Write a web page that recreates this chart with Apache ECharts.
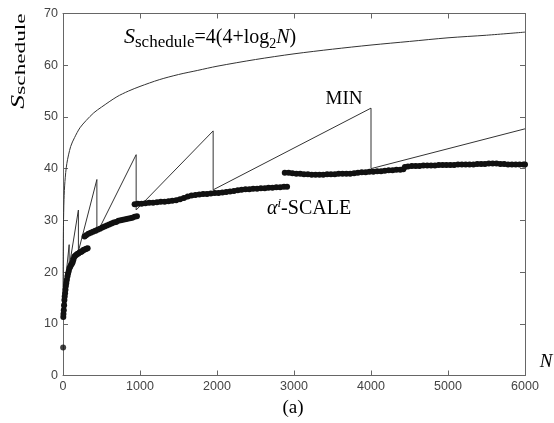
<!DOCTYPE html>
<html>
<head>
<meta charset="utf-8">
<script src="https://cdn.jsdelivr.net/npm/echarts@6/dist/echarts.min.js"></script>
<style>html,body{margin:0;padding:0;background:#fff}#c{width:554px;height:423px}</style>
</head>
<body>
<div id="c"></div>
<script>
// ---- data ----
const xTickValues = [0, 1000, 2000, 3000, 4000, 5000, 6000];
const yTickValues = [0, 10, 20, 30, 40, 50, 60, 70];

// S_schedule curve [N, value]
const scheduleCurve = [[1,16],[3,24],[6,29],[13,34],[25,37.5],[50,41],[100,44.3],[150,46],[220,47.9],[300,49.3],[400,50.8],[500,51.9],[700,53.9],[850,55],[1000,55.9],[1250,57.2],[1500,58.2],[1750,59.0],[2000,59.8],[2500,61.1],[3000,62.2],[3500,63.1],[4000,63.9],[4500,64.6],[5000,65.3],[5500,65.8],[6000,66.4]];

// MIN sawtooth [N, value]
const minCurve = [[30,18],[80,25.3],[80,21],[200,32],[200,24],[440,37.9],[440,27.5],[950,42.7],[950,32],[1950,47.3],[1950,35.9],[4000,51.7],[4000,40],[6000,47.7]];

// alpha^i-SCALE points
const alphaDot = [[2,5.4]];
const alphaA = [[4,11.3],[6,11.9],[10,12.6],[14,13.6],[18,14.6],[22,15.3],[27,15.9],[32,16.6],[37,17.3],[43,17.9],[50,18.5],[58,19.2],[66,19.7],[75,20.2],[85,20.8],[95,21.1],[105,21.4],[115,21.6],[125,21.9],[135,22.4],[145,22.9],[155,23.1],[170,23.3],[185,23.5],[200,23.6],[215,23.8],[230,23.9],[245,24.0],[260,24.2],[275,24.3],[290,24.4],[305,24.5],[320,24.6]];
const alphaB = [[280,26.9],[300,27.1],[330,27.4],[360,27.6],[390,27.8],[420,28.0],[450,28.2],[480,28.4],[510,28.6],[540,28.8],[570,29.0],[600,29.2],[630,29.4],[660,29.6],[690,29.7],[720,29.9],[750,30.0],[780,30.1],[810,30.2],[840,30.3],[870,30.4],[900,30.5],[930,30.7],[960,30.8]];
const alphaC = [[930,33.1],[970,33.2],[1020,33.2],[1070,33.3],[1120,33.4],[1170,33.4],[1220,33.5],[1270,33.6],[1320,33.6],[1370,33.7],[1420,33.8],[1470,33.9],[1520,34.1],[1570,34.3],[1620,34.6],[1670,34.8],[1720,34.9],[1770,35.0],[1820,35.1],[1870,35.1],[1920,35.2],[1970,35.3],[2020,35.3],[2070,35.4],[2120,35.5],[2170,35.6],[2220,35.7],[2270,35.8],[2320,35.9],[2370,36.0],[2420,36.0],[2470,36.1],[2520,36.1],[2570,36.2],[2620,36.2],[2670,36.3],[2720,36.3],[2770,36.4],[2820,36.4],[2870,36.5],[2910,36.5]];
const alphaD = [[2880,39.2],[2930,39.2],[2980,39.1],[3030,39.0],[3080,39.0],[3130,38.9],[3180,38.9],[3230,38.8],[3280,38.8],[3330,38.8],[3380,38.8],[3430,38.9],[3480,38.9],[3530,38.9],[3580,39.0],[3630,39.0],[3680,39.0],[3730,39.0],[3780,39.1],[3830,39.2],[3880,39.3],[3930,39.3],[3980,39.4],[4030,39.4],[4080,39.5],[4130,39.5],[4180,39.6],[4230,39.7],[4280,39.7],[4330,39.8],[4380,39.8],[4420,39.9],[4440,40.3],[4480,40.4],[4530,40.5],[4580,40.5],[4630,40.5],[4680,40.6],[4730,40.6],[4780,40.6],[4830,40.6],[4880,40.7],[4930,40.7],[4980,40.7],[5030,40.7],[5080,40.7],[5130,40.8],[5180,40.8],[5230,40.8],[5280,40.8],[5330,40.8],[5380,40.9],[5430,40.9],[5480,40.9],[5530,41.0],[5580,41.0],[5630,41.0],[5680,40.9],[5730,40.9],[5780,40.8],[5830,40.8],[5880,40.8],[5930,40.8],[5980,40.8],[6000,40.8]];

// ---- chart ----
const chart = echarts.init(document.getElementById('c'), null, {renderer: 'canvas'});
const axisColor = '#666';
const labelStyle = {color: '#444', fontSize: 12.5, fontFamily: 'Liberation Sans, Arial, sans-serif'};
const serif = 'Liberation Serif, Times New Roman, serif';

function xAx(pos, showLabel) {
  return {
    type: 'value', position: pos, min: xTickValues[0], max: xTickValues[xTickValues.length - 1],
    interval: xTickValues[1] - xTickValues[0],
    axisLine: {show: true, onZero: false, lineStyle: {color: axisColor, width: 1}},
    axisTick: {show: true, inside: true, length: 5, lineStyle: {color: axisColor, width: 1}},
    axisLabel: Object.assign({show: showLabel, margin: 5, formatter: v => String(v)}, labelStyle),
    splitLine: {show: false}
  };
}
function yAx(pos, showLabel) {
  return {
    type: 'value', position: pos, min: yTickValues[0], max: yTickValues[yTickValues.length - 1],
    interval: yTickValues[1] - yTickValues[0],
    axisLine: {show: true, onZero: false, lineStyle: {color: axisColor, width: 1}},
    axisTick: {show: true, inside: true, length: 5, lineStyle: {color: axisColor, width: 1}},
    axisLabel: Object.assign({show: showLabel, margin: 5, formatter: v => String(v)}, labelStyle),
    splitLine: {show: false}
  };
}
function alphaSeries(data) {
  return {
    type: 'line', data: data, xAxisIndex: 0, yAxisIndex: 0,
    symbol: 'circle', symbolSize: 6, showAllSymbol: true, clip: false,
    lineStyle: {color: '#111', width: 4.5}, itemStyle: {color: '#111'},
    animation: false, z: 3
  };
}

chart.setOption({
  animation: false,
  grid: {left: 63, right: 29, top: 13.5, bottom: 47.5, containLabel: false},
  xAxis: [xAx('bottom', true), xAx('top', false)],
  yAxis: [yAx('left', true), yAx('right', false)],
  series: [
    {type: 'line', data: scheduleCurve, symbol: 'none', smooth: 0.3,
     lineStyle: {color: '#333', width: 1}, z: 2},
    {type: 'line', data: minCurve, symbol: 'none',
     lineStyle: {color: '#333', width: 1}, z: 2},
    {type: 'scatter', data: alphaDot, symbol: 'circle', symbolSize: 6, itemStyle: {color: '#111'}, z: 3},
    alphaSeries(alphaA), alphaSeries(alphaB), alphaSeries(alphaC), alphaSeries(alphaD)
  ],
  graphic: [
    {type: 'text', x: 18.5, y: 61, rotation: Math.PI / 2, scaleX: 1.55,
     style: {text: '{s|S}{b|schedule}', align: 'center', verticalAlign: 'middle',
       rich: {
         s: {fontFamily: serif, fontStyle: 'italic', fontSize: 18, verticalAlign: 'bottom', lineHeight: 20},
         b: {fontFamily: serif, fontSize: 15, verticalAlign: 'bottom', lineHeight: 17}
       }}},
    {type: 'text', x: 124, y: 39,
     style: {text: '{s|S}{b|schedule}{n|=4(4+log}{c|2}{i|N}{n|)}', align: 'left', verticalAlign: 'middle',
       rich: {
         s: {fontFamily: serif, fontStyle: 'italic', fontSize: 22, verticalAlign: 'bottom', lineHeight: 24, padding: [0, 0, 3, 0]},
         b: {fontFamily: serif, fontSize: 17, verticalAlign: 'bottom', lineHeight: 20},
         c: {fontFamily: serif, fontSize: 14, verticalAlign: 'bottom', lineHeight: 18},
         n: {fontFamily: serif, fontSize: 20, verticalAlign: 'bottom', lineHeight: 22, padding: [0, 0, 3, 0]},
         i: {fontFamily: serif, fontStyle: 'italic', fontSize: 20, verticalAlign: 'bottom', lineHeight: 22, padding: [0, 0, 3, 0]}
       }}},
    {type: 'text', x: 344, y: 99,
     style: {text: 'MIN', align: 'center', verticalAlign: 'middle', fontFamily: serif, fontSize: 19, fill: '#000'}},
    {type: 'text', x: 267, y: 208,
     style: {text: '{a|α}{i|i}{n|-SCALE}', align: 'left', verticalAlign: 'middle',
       rich: {
         a: {fontFamily: serif, fontStyle: 'italic', fontSize: 20, verticalAlign: 'bottom', lineHeight: 22},
         i: {fontFamily: serif, fontStyle: 'italic', fontSize: 13, verticalAlign: 'top', lineHeight: 22},
         n: {fontFamily: serif, fontSize: 20, verticalAlign: 'bottom', lineHeight: 22}
       }}},
    {type: 'text', x: 546, y: 362,
     style: {text: 'N', align: 'center', verticalAlign: 'middle', fontFamily: serif, fontStyle: 'italic', fontSize: 19, fill: '#000'}},
    {type: 'text', x: 293, y: 408,
     style: {text: '(a)', align: 'center', verticalAlign: 'middle', fontFamily: serif, fontSize: 19, fill: '#000'}}
  ]
});
</script>
</body>
</html>
